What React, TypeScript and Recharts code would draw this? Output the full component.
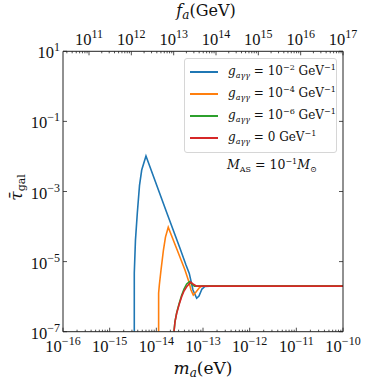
import React from "react";
import { LineChart, Line, XAxis, YAxis, Legend } from "recharts";

type Pt = { m: number; tau: number };

// m_a (eV) vs galactic optical depth
const gMinus2: Pt[] = [
  { m: 3.37e-15, tau: 1e-7 },
  { m: 3.37e-15, tau: 4.7e-6 },
  { m: 3.57e-15, tau: 4.1e-5 },
  { m: 3.91e-15, tau: 2.4e-4 },
  { m: 4.36e-15, tau: 1.5e-3 },
  { m: 4.86e-15, tau: 4.1e-3 },
  { m: 6.0e-15, tau: 1.03e-2 },
  { m: 1.69e-14, tau: 2.4e-4 },
  { m: 3.21e-14, tau: 2.4e-5 },
  { m: 4.32e-14, tau: 8.0e-6 },
  { m: 5.08e-14, tau: 4.6e-6 },
  { m: 6.1e-14, tau: 1.55e-6 },
  { m: 7.32e-14, tau: 9.0e-7 },
  { m: 8.2e-14, tau: 1.04e-6 },
  { m: 9.5e-14, tau: 1.65e-6 },
  { m: 1.1e-13, tau: 1.95e-6 },
  { m: 1.41e-13, tau: 2.0e-6 },
  { m: 1e-10, tau: 2.0e-6 },
];

const gMinus4: Pt[] = [
  { m: 1.12e-14, tau: 1e-7 },
  { m: 1.12e-14, tau: 1.27e-6 },
  { m: 1.16e-14, tau: 2.15e-6 },
  { m: 1.26e-14, tau: 5.75e-6 },
  { m: 1.42e-14, tau: 2.14e-5 },
  { m: 1.57e-14, tau: 5.0e-5 },
  { m: 1.8e-14, tau: 9.5e-5 },
  { m: 2.64e-14, tau: 2.61e-5 },
  { m: 4.11e-14, tau: 5.75e-6 },
  { m: 5.01e-14, tau: 2.6e-6 },
  { m: 5.53e-14, tau: 1.55e-6 },
  { m: 6.19e-14, tau: 1.11e-6 },
  { m: 7.08e-14, tau: 1.36e-6 },
  { m: 8.41e-14, tau: 1.82e-6 },
  { m: 9.51e-14, tau: 2.0e-6 },
  { m: 1e-10, tau: 2.0e-6 },
];

const gMinus6: Pt[] = [
  { m: 2.39e-14, tau: 1e-7 },
  { m: 2.51e-14, tau: 1.95e-7 },
  { m: 2.73e-14, tau: 3.5e-7 },
  { m: 3.06e-14, tau: 6.2e-7 },
  { m: 3.49e-14, tau: 1.1e-6 },
  { m: 3.92e-14, tau: 1.65e-6 },
  { m: 4.47e-14, tau: 2.3e-6 },
  { m: 5.14e-14, tau: 2.7e-6 },
  { m: 5.81e-14, tau: 2.25e-6 },
  { m: 6.57e-14, tau: 2.0e-6 },
  { m: 1e-10, tau: 2.0e-6 },
];

const gZero: Pt[] = [
  { m: 2.39e-14, tau: 1e-7 },
  { m: 2.51e-14, tau: 1.9e-7 },
  { m: 2.73e-14, tau: 3.35e-7 },
  { m: 3.06e-14, tau: 5.8e-7 },
  { m: 3.49e-14, tau: 1.0e-6 },
  { m: 3.92e-14, tau: 1.45e-6 },
  { m: 4.47e-14, tau: 1.92e-6 },
  { m: 5.45e-14, tau: 2.6e-6 },
  { m: 6.1e-14, tau: 2.3e-6 },
  { m: 7.32e-14, tau: 2.0e-6 },
  { m: 1e-10, tau: 2.0e-6 },
];

// f_a (GeV) range of the twin top axis, and the tau range (used to anchor the top/right axes)
const faRange = [2.43e10, 1e17];
const tauRange = [1e-7, 10];

// legend exponent of g_aγγ per series name
const couplingExps: Record<string, string | null> = { "-2": "−2", "-4": "−4", "-6": "−6", "0": null };
const massDecades = [-16, -15, -14, -13, -12, -11, -10];
const tauDecades = [1, -1, -3, -5, -7];
const faDecades = [10, 11, 12, 13, 14, 15, 16, 17];

const SERIF = "'DejaVu Serif', serif";
const NUM = "'Liberation Serif', serif";
const INK = "#222";

const withMinors = (exps: number[], lo: number, hi: number) => {
  const out: number[] = [];
  exps.forEach((e) => {
    for (let k = 1; k <= 9; k++) {
      const v = k * Math.pow(10, e);
      if (v >= lo * 0.999 && v <= hi * 1.001) out.push(v);
    }
  });
  return out;
};

const expOf = (v: number) => {
  const l = Math.log10(v);
  const e = Math.round(l);
  return { e, major: Math.abs(l - e) < 1e-6 };
};
const fmtExp = (e: number) => (e < 0 ? `−${-e}` : `${e}`);

const Pow10 = ({ x, y, e, anchor }: { x: number; y: number; e: number; anchor: string }) => (
  <text x={x} y={y} textAnchor={anchor} fontFamily={NUM} fontSize={16.5} fill="#111">
    10
    <tspan dy={-7} fontSize={12}>{fmtExp(e)}</tspan>
  </text>
);

const BottomTick = (props: any) => {
  const { x, y, payload } = props;
  const { e, major } = expOf(payload.value);
  return (
    <g>
      <line x1={x} x2={x} y1={y} y2={y - (major ? 4 : 2)} stroke={INK} strokeWidth={0.8} />
      {major && <Pow10 x={x} y={y + 20.5} e={e} anchor="middle" />}
    </g>
  );
};

const TopTick = (props: any) => {
  const { x, y, payload } = props;
  const { e, major } = expOf(payload.value);
  return (
    <g>
      <line x1={x} x2={x} y1={y} y2={y + (major ? 4 : 2)} stroke={INK} strokeWidth={0.8} />
      {major && <Pow10 x={x} y={y - 6.5} e={e} anchor="middle" />}
    </g>
  );
};

const LeftTick = (props: any) => {
  const { x, y, payload } = props;
  const { e } = expOf(payload.value);
  return (
    <g>
      <line x1={x} x2={x + 4} y1={y} y2={y} stroke={INK} strokeWidth={0.8} />
      <Pow10 x={x - 3} y={y + 7} e={e} anchor="end" />
    </g>
  );
};

const RightTick = (props: any) => {
  const { x, y } = props;
  return <line x1={x} x2={x - 4} y1={y} y2={y} stroke={INK} strokeWidth={0.8} />;
};

const MassTitle = (props: any) => {
  const { x, y, width } = props.viewBox;
  return (
    <text x={x + width / 2} y={y + 42.5} textAnchor="middle" fontFamily={SERIF} fontSize={17} fill="#111">
      <tspan fontStyle="italic">m</tspan>
      <tspan fontStyle="italic" fontSize={12} dy={3}>a</tspan>
      <tspan dy={-3}>(eV)</tspan>
    </text>
  );
};

const FaTitle = (props: any) => {
  const { x, y, width, height } = props.viewBox;
  return (
    <text x={x + width / 2 + 3} y={y + height - 35} textAnchor="middle" fontFamily={SERIF} fontSize={16} fill="#111">
      <tspan fontStyle="italic">f</tspan>
      <tspan fontStyle="italic" fontSize={12} dy={3}>a</tspan>
      <tspan dy={-3}>(GeV)</tspan>
    </text>
  );
};

const TauTitle = (props: any) => {
  const { x, y, width, height } = props.viewBox;
  const cx = x + width - 41;
  const cy = y + height / 2 - 4;
  return (
    <text
      x={cx}
      y={cy}
      textAnchor="middle"
      transform={`rotate(-90 ${cx} ${cy})`}
      fontFamily={SERIF}
      fontSize={17}
      fill="#111"
    >
      <tspan fontStyle="italic">τ̄</tspan>
      <tspan fontSize={11} dy={3}>gal</tspan>
    </text>
  );
};

const LegendBox = ({ payload }: any) => {
  const items = (payload || []).filter((p: any) => p.type !== "none" && p.value in couplingExps);
  return (
    <div style={{ fontFamily: SERIF, color: "#111" }}>
      <div
        style={{
          width: 153,
          boxSizing: "border-box",
          border: "1px solid #d6d6d6",
          borderRadius: 3,
          background: "rgba(255,255,255,0.85)",
          padding: "2px 0 3px 5px",
        }}
      >
        {items.map((p: any, i: number) => {
          const exp = couplingExps[p.value];
          return (
            <div key={i} style={{ display: "flex", alignItems: "center", height: 22, fontSize: 12 }}>
              <span style={{ width: 28, height: 0, borderTop: `2px solid ${p.color}`, marginRight: 10 }} />
              <span style={{ whiteSpace: "nowrap", lineHeight: "12px" }}>
                <i>g</i>
                <sub style={{ fontSize: 8, verticalAlign: "-3px", fontStyle: "italic" }}>aγγ</sub>
                {" = "}
                {exp ? (
                  <>
                    10<sup style={{ fontSize: 8, verticalAlign: "5px" }}>{exp}</sup>
                  </>
                ) : (
                  "0"
                )}
                {" GeV"}
                <sup style={{ fontSize: 8, verticalAlign: "5px" }}>−1</sup>
              </span>
            </div>
          );
        })}
      </div>
      <div style={{ marginLeft: 43, marginTop: 4, fontSize: 12.5, whiteSpace: "nowrap" }}>
        <i>M</i>
        <sub style={{ fontSize: 8, verticalAlign: "-3px" }}>AS</sub>
        {" = 10"}
        <sup style={{ fontSize: 8, verticalAlign: "5px" }}>−1</sup>
        <i>M</i>
        <sub style={{ fontSize: 8, verticalAlign: "-3px" }}>⊙</sub>
      </div>
    </div>
  );
};

export default function App() {
  const massAll = withMinors(massDecades, 1e-16, 1e-10);
  const faAll = withMinors(faDecades, faRange[0], faRange[1]);
  const tauMajors = tauDecades.map((e) => Math.pow(10, e));
  const anchor = [
    { fa: faRange[0], tau: tauRange[0] },
    { fa: faRange[1], tau: tauRange[1] },
  ];

  return (
    <div style={{ position: "absolute", left: 0, top: 0, width: 370, height: 385, background: "#fff" }}>
      <LineChart width={370} height={385} margin={{ top: 50.3, right: 26, bottom: 52.3, left: 62 }}>
        <XAxis
          xAxisId="m"
          dataKey="m"
          type="number"
          scale="log"
          domain={[1e-16, 1e-10]}
          allowDataOverflow
          ticks={massAll}
          interval={0}
          height={1}
          tickSize={0}
          tickMargin={0}
          tickLine={false}
          tick={<BottomTick />}
          axisLine={{ stroke: INK, strokeWidth: 1 }}
          label={<MassTitle />}
        />
        <XAxis
          xAxisId="fa"
          dataKey="fa"
          orientation="top"
          type="number"
          scale="log"
          domain={faRange}
          allowDataOverflow
          ticks={faAll}
          interval={0}
          height={1}
          tickSize={0}
          tickMargin={0}
          tickLine={false}
          tick={<TopTick />}
          axisLine={{ stroke: INK, strokeWidth: 1 }}
          label={<FaTitle />}
        />
        <YAxis
          yAxisId="l"
          type="number"
          scale="log"
          domain={tauRange}
          allowDataOverflow
          ticks={tauMajors}
          interval={0}
          width={1}
          tickSize={0}
          tickMargin={0}
          tickLine={false}
          tick={<LeftTick />}
          axisLine={{ stroke: INK, strokeWidth: 1 }}
          label={<TauTitle />}
        />
        <YAxis
          yAxisId="r"
          orientation="right"
          type="number"
          scale="log"
          domain={tauRange}
          allowDataOverflow
          ticks={tauMajors}
          interval={0}
          width={1}
          tickSize={0}
          tickMargin={0}
          tickLine={false}
          tick={<RightTick />}
          axisLine={{ stroke: INK, strokeWidth: 1 }}
        />
        <Legend
          layout="vertical"
          align="center"
          verticalAlign="middle"
          content={<LegendBox />}
          wrapperStyle={{ position: "absolute", left: 184, top: 58, width: 160, height: 120 }}
        />
        <Line xAxisId="fa" yAxisId="r" data={anchor} dataKey="tau" name="axis" stroke="none" legendType="none" dot={false} activeDot={false} isAnimationActive={false} />
        <Line xAxisId="m" yAxisId="l" data={gMinus2} dataKey="tau" name="-2" stroke="#1f77b4" strokeWidth={1.6} dot={false} isAnimationActive={false} />
        <Line xAxisId="m" yAxisId="l" data={gMinus4} dataKey="tau" name="-4" stroke="#ff7f0e" strokeWidth={1.6} dot={false} isAnimationActive={false} />
        <Line xAxisId="m" yAxisId="l" data={gMinus6} dataKey="tau" name="-6" stroke="#2ca02c" strokeWidth={1.6} dot={false} isAnimationActive={false} />
        <Line xAxisId="m" yAxisId="l" data={gZero} dataKey="tau" name="0" stroke="#d62728" strokeWidth={1.6} dot={false} isAnimationActive={false} />
      </LineChart>
    </div>
  );
}
